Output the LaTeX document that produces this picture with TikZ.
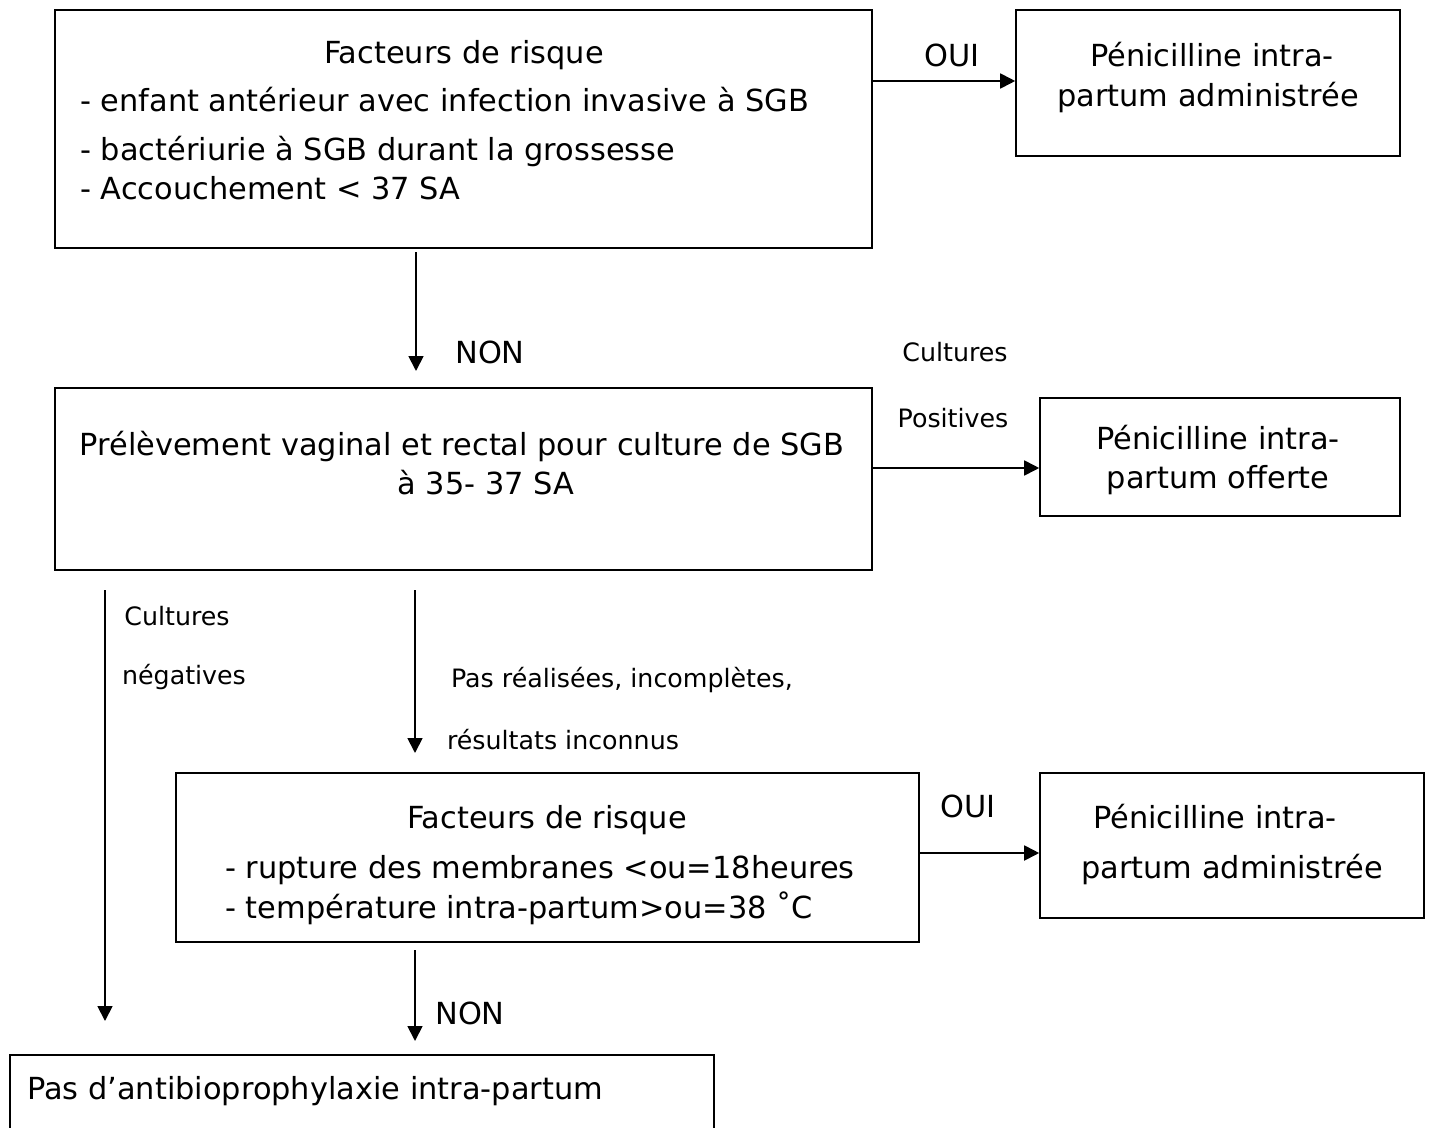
\documentclass[tikz,border=0pt]{standalone}
\usepackage{fontspec}
\setmainfont{DejaVu Sans}
\usetikzlibrary{arrows.meta}
\begin{document}
\begin{tikzpicture}[x=1pt,y=-1pt,
  box/.style={draw,line width=1.6pt,minimum width=#1,inner sep=0pt},
  big/.style={font=\fontsize{30.4}{36}\selectfont,inner sep=0pt},
  small/.style={font=\fontsize{25.3}{30}\selectfont,inner sep=0pt},
  arr/.style={line width=1.8pt,-{Triangle[length=15pt,width=15pt]}}]
\useasboundingbox (0,0) rectangle (1432,1127);
\clip (0,0) rectangle (1432,1127);
% boxes
\node[box=817pt,minimum height=238pt] (b1) at (463.5,129) {};
\node[box=384pt,minimum height=146pt] (p1) at (1208,83) {};
\node[box=817pt,minimum height=182pt] (b2) at (463.5,479) {};
\node[box=360pt,minimum height=118pt] (p2) at (1220,457) {};
\node[box=743pt,minimum height=169pt] (b3) at (547.5,857.5) {};
\node[box=384pt,minimum height=145pt] (p3) at (1232,845.5) {};
\node[box=704pt,minimum height=140pt] (b4) at (362,1125) {};
% texts box1
\node[big,anchor=base] (t11) at (464,63) {Facteurs de risque};
\node[big,anchor=base west] (t12) at (80,111) {- enfant antérieur avec infection invasive à SGB};
\node[big,anchor=base west] (t13) at (80,160) {- bactériurie à SGB durant la grossesse};
\node[big,anchor=base west] (t14) at (80,199) {- Accouchement < 37 SA};
% p1
\node[big,anchor=base] (tp11) at (1212,66) {Pénicilline intra-};
\node[big,anchor=base] (tp12) at (1208,106) {partum administrée};
% box2
\node[big,anchor=base] (t21) at (462,455) {Prélèvement vaginal et rectal pour culture de SGB};
\node[big,anchor=base] (t22) at (486,494) {à 35- 37 SA};
% p2
\node[big,anchor=base] (tp21) at (1218,449) {Pénicilline intra-};
\node[big,anchor=base] (tp22) at (1218,488) {partum offerte};
% box3
\node[big,anchor=base] (t31) at (547,828) {Facteurs de risque};
\node[big,anchor=base west] (t32) at (225,878) {- rupture des membranes <ou=18heures};
\node[big,anchor=base west] (t33) at (225,918) {- température intra-partum>ou=38 ˚C};
% p3
\node[big,anchor=base] (tp31) at (1215,828) {Pénicilline intra-};
\node[big,anchor=base] (tp32) at (1232,878) {partum administrée};
% bottom
\node[big,anchor=base west] (t41) at (27,1099) {Pas d’antibioprophylaxie intra-partum};
% labels
\node[big,anchor=base] (oui1) at (952,66) {OUI};
\node[big,anchor=base] (non1) at (490,363) {NON};
\node[small,anchor=base] (cp1) at (955,361) {Cultures};
\node[small,anchor=base] (cp2) at (953,427) {Positives};
\node[small,anchor=base] (cn1) at (177,625) {Cultures};
\node[small,anchor=base] (cn2) at (184,684) {négatives};
\node[small,anchor=base] (pr1) at (622,687) {Pas réalisées, incomplètes,};
\node[small,anchor=base] (pr2) at (563,749) {résultats inconnus};
\node[big,anchor=base] (oui2) at (968,817) {OUI};
\node[big,anchor=base] (non2) at (470,1024) {NON};
% connector ends
\coordinate (a1s) at (416,252); \coordinate (a1e) at (416,371);
\coordinate (aLs) at (105,590); \coordinate (aLe) at (105,1021);
\coordinate (aMs) at (415,590); \coordinate (aMe) at (415,753);
\coordinate (aNs) at (415,950); \coordinate (aNe) at (415,1041);
% connectors
\draw[arr] (b1.east |- 0,81) -- (p1.west |- 0,81);
\draw[arr] (a1s) -- (a1e);
\draw[arr] (b2.east |- 0,468) -- (p2.west |- 0,468);
\draw[arr] (aLs) -- (aLe);
\draw[arr] (aMs) -- (aMe);
\draw[arr] (b3.east |- 0,853) -- (p3.west |- 0,853);
\draw[arr] (aNs) -- (aNe);
\end{tikzpicture}
\end{document}
